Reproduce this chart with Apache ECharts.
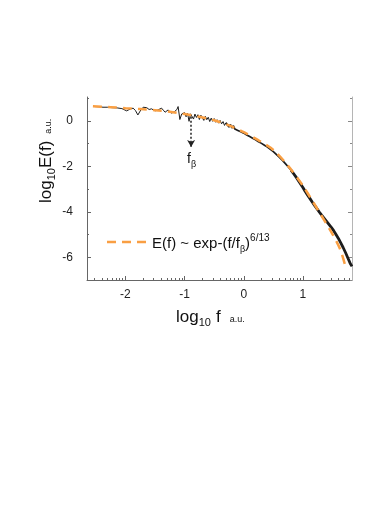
<!DOCTYPE html>
<html>
<head>
<meta charset="utf-8">
<script src="https://cdn.jsdelivr.net/npm/echarts@6/dist/echarts.min.js"></script>
<style>
html, body { margin: 0; padding: 0; background: #fff; }
#chart { width: 370px; height: 530px; }
</style>
</head>
<body>
<div id="chart"></div>
<script>
// measured spectrum, log10 f vs log10 E(f)
var specX = [-2.52, -2.45, -2.38, -2.3, -2.22, -2.14, -2.06, -1.98, -1.92, -1.87, -1.83, -1.79, -1.74, -1.7, -1.64, -1.6,
    -1.56, -1.5, -1.45, -1.39, -1.36, -1.33, -1.28, -1.25, -1.22, -1.17, -1.13, -1.11, -1.08, -1.05, -1.03,
    -1, -0.975, -0.95, -0.925, -0.9, -0.875, -0.85, -0.825, -0.8, -0.775, -0.75, -0.725, -0.7, -0.675, -0.65, -0.625,
    -0.6, -0.575, -0.55, -0.525, -0.5, -0.475, -0.45, -0.425, -0.4, -0.375, -0.35, -0.325, -0.3, -0.275, -0.25, -0.225,
    -0.2, -0.175, -0.15, -0.125, -0.1, -0.075, -0.05, -0.025, 0,
    0.025, 0.05, 0.075, 0.1, 0.125, 0.15, 0.175, 0.2, 0.225, 0.25, 0.275, 0.3, 0.325, 0.35, 0.375, 0.4, 0.425, 0.45,
    0.475, 0.5, 0.525, 0.55, 0.575, 0.6, 0.625, 0.65, 0.675, 0.7, 0.725, 0.75, 0.775, 0.8, 0.825, 0.85, 0.875, 0.9,
    0.925, 0.95, 0.975, 1,
    1.02, 1.04, 1.06, 1.08, 1.1, 1.12, 1.14, 1.16, 1.18, 1.2, 1.22, 1.24, 1.26, 1.28, 1.3, 1.32, 1.34, 1.36, 1.38, 1.4,
    1.42, 1.44, 1.46, 1.48, 1.5, 1.52, 1.54, 1.56, 1.58, 1.6, 1.62, 1.64, 1.66, 1.68, 1.7, 1.72, 1.74, 1.76, 1.78, 1.8,
    1.82, 1.83];
var specY = [0.63, 0.62, 0.6, 0.6, 0.58, 0.57, 0.54, 0.44, 0.52, 0.56, 0.45, 0.26, 0.48, 0.6, 0.58, 0.5,
    0.53, 0.44, 0.48, 0.56, 0.47, 0.38, 0.48, 0.42, 0.34, 0.41, 0.5, 0.63, 0.06, 0.3, 0.34,
    0.36, 0.18, 0.33, -0.02, 0.31, 0.36, 0.08, 0.3, 0.15, 0.27, 0.06, 0.25, 0.21, 0.02, 0.2, 0.05,
    0.16, -0.03, 0.12, -0.02, 0.1, -0.06, 0.05, -0.1, 0.02, -0.13, -0.03, -0.2, -0.08, -0.1, -0.27, -0.16,
    -0.31, -0.22, -0.36, -0.29, -0.42, -0.36, -0.48, -0.42, -0.54,
    -0.48, -0.62, -0.55, -0.69, -0.61, -0.76, -0.69, -0.83, -0.76, -0.92, -0.85, -0.99, -0.93, -1.07, -1.01, -1.15, -1.1, -1.25,
    -1.2, -1.35, -1.31, -1.47, -1.43, -1.6, -1.56, -1.73, -1.7, -1.87, -1.84, -2.02, -2, -2.17, -2.16, -2.35, -2.34, -2.53,
    -2.53, -2.73, -2.73, -2.93,
    -2.89, -3.11, -3.05, -3.27, -3.2, -3.42, -3.36, -3.58, -3.52, -3.73, -3.66, -3.87, -3.81, -4.02, -3.95, -4.16, -4.08, -4.29, -4.21, -4.42,
    -4.35, -4.55, -4.48, -4.68, -4.61, -4.83, -4.77, -5, -4.94, -5.17, -5.13, -5.37, -5.33, -5.57, -5.53, -5.79, -5.77, -6.03, -6.01, -6.27,
    -6.25, -6.4];

// stretched exponential fit E(f) ~ exp-(f/fb)^(6/13)
var fitX = [-2.55, -2.25, -2.0, -1.75, -1.5, -1.25, -1.0, -0.75, -0.5, -0.25, 0, 0.25, 0.5, 0.75, 1.0, 1.12, 1.25, 1.38, 1.5, 1.63, 1.73];
var fitY = [0.64, 0.6, 0.56, 0.52, 0.47, 0.4, 0.3, 0.18, 0.03, -0.2, -0.5, -0.86, -1.28, -1.98, -2.85, -3.35, -3.9, -4.45, -4.98, -5.65, -6.5];

var fBeta = -0.89;
var arrowY = [0.18, -1.15];

var yMajor = [-6, -4, -2, 0];
var yMinor = [-7, -5, -3, -1, 1];
var xMajor = [-2, -1, 0, 1];
var decades = [-3, -2, -1, 0, 1];

var xMin = -2.65, xMax = 1.83, yMin = -7, yMax = 1.05;

// the noisy trace gets visibly thicker towards high f
var bandEdges = [-0.3, 0.8];
var bandWidths = [1, 1.7, 2.8];

var xMinor = [];
decades.forEach(function (d) {
    for (var k = 2; k <= 9; k++) {
        var v = d + Math.log10(k);
        if (v > xMin && v < xMax) xMinor.push(v);
    }
});

var orange = '#f99f43';
var axisColor = '#666';
var font = '"Liberation Sans", Arial, sans-serif';

var dom = document.getElementById('chart');
var myChart = echarts.init(dom, null, { renderer: 'canvas' });

// lay out text pieces (sub/superscripts) one after another
var mctx = document.createElement('canvas').getContext('2d');
function pieces(list, color) {
    var x = 0, out = [];
    list.forEach(function (p) {
        mctx.font = p.size + 'px ' + font;
        out.push({
            type: 'text',
            x: x + (p.gap || 0),
            y: (p.dy || 0) - 0.3 * p.size,
            style: {
                text: p.t,
                font: p.size + 'px ' + font,
                fill: color || '#111',
                verticalAlign: 'middle',
                align: 'left'
            }
        });
        x += (p.gap || 0) + mctx.measureText(p.t).width;
    });
    return out;
}

function pairs(xs, ys, lo, hi) {
    var out = [];
    xs.forEach(function (x, i) {
        if (x >= lo && x <= hi) out.push([x, ys[i]]);
    });
    return out;
}

function valueAxis(pos, extra) {
    var ax = {
        type: 'value', position: pos,
        axisLine: { show: false, onZero: false },
        axisLabel: { show: false },
        splitLine: { show: false }
    };
    return Object.assign(ax, extra);
}

var traceSeries = [];
var cuts = [-99].concat(bandEdges, [99]);
for (var s = 0; s < bandWidths.length; s++) {
    traceSeries.push({
        name: 'E(f)',
        type: 'line',
        data: pairs(specX, specY, cuts[s], cuts[s + 1]),
        showSymbol: false,
        symbol: 'none',
        lineStyle: { color: '#1c1c1c', width: bandWidths[s] },
        z: 2
    });
}
// dotted arrow marking f_beta
traceSeries[0].markLine = {
    silent: true,
    symbol: ['none', 'arrow'],
    symbolSize: [6, 7],
    label: { show: false },
    lineStyle: { color: '#222', type: [2, 2], width: 1.5 },
    data: [[{ coord: [fBeta, arrowY[0]] }, { coord: [fBeta, arrowY[1]] }]]
};

var option = {
    backgroundColor: '#fff',
    animation: false,
    grid: { left: 87, right: 18, top: 97, bottom: 250 },
    xAxis: [
        valueAxis('bottom', {
            min: xMin, max: xMax,
            axisLine: { show: true, onZero: false, lineStyle: { color: axisColor, width: 1 } },
            axisTick: { show: true, inside: true, length: 4, customValues: xMajor, lineStyle: { color: axisColor } },
            axisLabel: { customValues: xMajor, color: '#222', fontSize: 12, fontFamily: font, margin: 9 }
        }),
        valueAxis('bottom', {
            min: xMin, max: xMax,
            axisTick: { show: true, inside: true, length: 2, customValues: xMinor, lineStyle: { color: axisColor } }
        })
    ],
    yAxis: [
        valueAxis('left', {
            min: yMin, max: yMax,
            axisLine: { show: true, onZero: false, lineStyle: { color: axisColor, width: 1 } },
            axisTick: { show: true, inside: true, length: 4, customValues: yMajor, lineStyle: { color: axisColor } },
            axisLabel: { customValues: yMajor, color: '#222', fontSize: 12, fontFamily: font, margin: 14 }
        }),
        valueAxis('left', {
            min: yMin, max: yMax,
            axisTick: { show: true, inside: true, length: 2, customValues: yMinor, lineStyle: { color: axisColor } }
        }),
        valueAxis('right', {
            min: yMin, max: yMax,
            axisLine: { show: true, onZero: false, lineStyle: { color: '#b5b5b5', width: 1 } },
            axisTick: { show: true, inside: true, length: 4, customValues: yMajor, lineStyle: { color: '#888' } }
        }),
        valueAxis('right', {
            min: yMin, max: yMax,
            axisTick: { show: true, inside: true, length: 2, customValues: yMinor, lineStyle: { color: '#888' } }
        })
    ],
    series: traceSeries.concat([{
        name: 'fit',
        type: 'line',
        data: pairs(fitX, fitY, -99, 99),
        smooth: 0.3,
        showSymbol: false,
        symbol: 'none',
        lineStyle: { color: orange, width: 2.5, type: [9, 6] },
        z: 3
    }]),
    graphic: [
        // y axis title
        {
            type: 'group', x: 51, y: 203, rotation: Math.PI / 2,
            children: pieces([
                { t: 'log', size: 17 },
                { t: '10', size: 11, dy: 4 },
                { t: 'E(f)', size: 17 },
                { t: 'a.u.', size: 9, gap: 7 }
            ])
        },
        // x axis title
        {
            type: 'group', x: 176, y: 322,
            children: pieces([
                { t: 'log', size: 17 },
                { t: '10', size: 11, dy: 4 },
                { t: 'f', size: 17, gap: 5 },
                { t: 'a.u.', size: 9, gap: 9 }
            ])
        },
        // f_beta annotation
        {
            type: 'group', x: 187, y: 163,
            children: pieces([
                { t: 'f', size: 14 },
                { t: 'β', size: 9, dy: 4 }
            ])
        },
        // legend
        {
            type: 'line',
            shape: { x1: 107, y1: 242, x2: 146, y2: 242 },
            style: { stroke: orange, lineWidth: 2.5, lineDash: [9, 6] }
        },
        {
            type: 'group', x: 152, y: 248,
            children: pieces([
                { t: 'E(f) ~ exp-(f/f', size: 15 },
                { t: 'β', size: 9, dy: 4 },
                { t: ')', size: 15 },
                { t: '6/13', size: 10, dy: -7 }
            ])
        }
    ]
};

myChart.setOption(option);
window.addEventListener('resize', myChart.resize);
</script>
</body>
</html>
